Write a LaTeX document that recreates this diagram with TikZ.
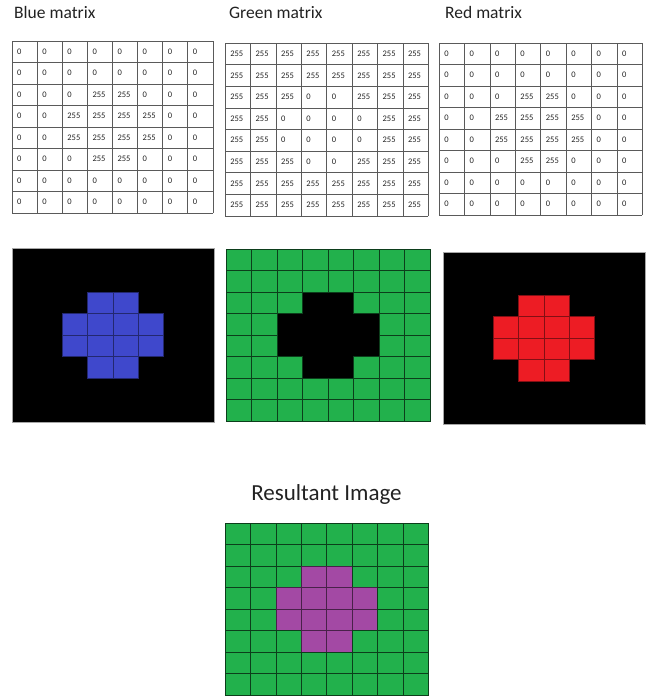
\documentclass[tikz,border=0pt]{standalone}
\usepackage{fontspec}
\setmainfont{Carlito}
\usepackage{tikz}
\usetikzlibrary{positioning}
\definecolor{bluepix}{RGB}{63, 72, 204}
\definecolor{greenpix}{RGB}{34, 177, 76}
\definecolor{redpix}{RGB}{237, 28, 36}
\definecolor{magpix}{RGB}{163, 73, 164}
\definecolor{ink}{RGB}{34, 34, 34}
\definecolor{rule}{RGB}{90, 90, 90}
% 1 = lit pixel of the plus shape
\newcommand{\plusmask}{{0,0,0,0,0,0,0,0},{0,0,0,0,0,0,0,0},{0,0,0,1,1,0,0,0},{0,0,1,1,1,1,0,0},{0,0,1,1,1,1,0,0},{0,0,0,1,1,0,0,0},{0,0,0,0,0,0,0,0},{0,0,0,0,0,0,0,0}}

\begin{document}
\begin{tikzpicture}[x=1pt, y=-1pt,
  title/.style={font=\fontsize{17.5pt}{20pt}\selectfont, text=ink,
    anchor=base west, inner sep=0pt},
  bigtitle/.style={font=\fontsize{23pt}{26pt}\selectfont, text=ink,
    anchor=base, inner sep=0pt},
  numtxt/.style={font=\fontsize{8.5pt}{9pt}\selectfont, text=ink,
    anchor=west, inner sep=0pt},
  tabline/.style={draw=rule, line width=0.6pt},
  pixcell/.style={line width=0.6pt}
]
\useasboundingbox (0,0) rectangle (647,696);

% titles
\node[title] (btitle) at (14, 18.5)  {Blue matrix};
\node[title] (gtitle) at (229, 19)   {Green matrix};
\node[title] (rtitle) at (445, 19)   {Red matrix};
\node[bigtitle] (restitle) at (326.5, 500) {Resultant Image};

% blue matrix
\begin{scope}[shift={(12,41)}, x=25.1pt, y=-21.5pt]
  \foreach \k in {0,...,8} {
    \draw[tabline] (\k,0) -- (\k,8);
    \draw[tabline] (0,\k) -- (8,\k);
  }
  \foreach \row [count=\i from 0] in \plusmask {
    \foreach \v [count=\j from 0] in \row {
      \node[numtxt] (bm-\i-\j) at (\j+0.2,\i+0.5) {\ifnum\v=1 255\else 0\fi};
    }
  }
\end{scope}

% green matrix
\begin{scope}[shift={(225,43)}, x=25.4pt, y=-21.6pt]
  \foreach \k in {0,...,8} {
    \draw[tabline] (\k,0) -- (\k,8);
    \draw[tabline] (0,\k) -- (8,\k);
  }
  \foreach \row [count=\i from 0] in \plusmask {
    \foreach \v [count=\j from 0] in \row {
      \node[numtxt] (gm-\i-\j) at (\j+0.2,\i+0.5) {\ifnum\v=1 0\else 255\fi};
    }
  }
\end{scope}

% red matrix
\begin{scope}[shift={(439,43)}, x=25.4pt, y=-21.5pt]
  \foreach \k in {0,...,8} {
    \draw[tabline] (\k,0) -- (\k,8);
    \draw[tabline] (0,\k) -- (8,\k);
  }
  \foreach \row [count=\i from 0] in \plusmask {
    \foreach \v [count=\j from 0] in \row {
      \node[numtxt] (rm-\i-\j) at (\j+0.2,\i+0.5) {\ifnum\v=1 255\else 0\fi};
    }
  }
\end{scope}

% blue image
\draw[fill=black, draw=black!35, line width=0.8pt] (12,248) rectangle (214,422);
\begin{scope}[shift={(12,249)}, x=25.25pt, y=-21.5pt]
  \foreach \row [count=\i from 0] in \plusmask {
    \foreach \v [count=\j from 0] in \row {
      \ifnum\v=1 \draw[pixcell, fill=bluepix, draw=bluepix!55!black] (\j,\i) rectangle ++(1,1); \fi
    }
  }
\end{scope}

% green image
\begin{scope}[shift={(226,249)}, x=25.5pt, y=-21.5pt]
  \fill[black] (0,0) rectangle (8,8);
  \foreach \row [count=\i from 0] in \plusmask {
    \foreach \v [count=\j from 0] in \row {
      \ifnum\v=0 \draw[pixcell, fill=greenpix, draw=greenpix!35!black] (\j,\i) rectangle ++(1,1); \fi
    }
  }
\end{scope}

% red image
\draw[fill=black, draw=black!35, line width=0.8pt] (443,252) rectangle (645,424);
\begin{scope}[shift={(443,252)}, x=25.25pt, y=-21.5pt]
  \foreach \row [count=\i from 0] in \plusmask {
    \foreach \v [count=\j from 0] in \row {
      \ifnum\v=1 \draw[pixcell, fill=redpix, draw=redpix!55!black] (\j,\i) rectangle ++(1,1); \fi
    }
  }
\end{scope}

% resultant image
\begin{scope}[shift={(225,523)}, x=25.4pt, y=-21.5pt]
  \foreach \row [count=\i from 0] in \plusmask {
    \foreach \v [count=\j from 0] in \row {
      \ifnum\v=1
        \draw[pixcell, fill=magpix, draw=magpix!45!black] (\j,\i) rectangle ++(1,1);
      \else
        \draw[pixcell, fill=greenpix, draw=greenpix!35!black] (\j,\i) rectangle ++(1,1);
      \fi
    }
  }
\end{scope}
\end{tikzpicture}
\end{document}
